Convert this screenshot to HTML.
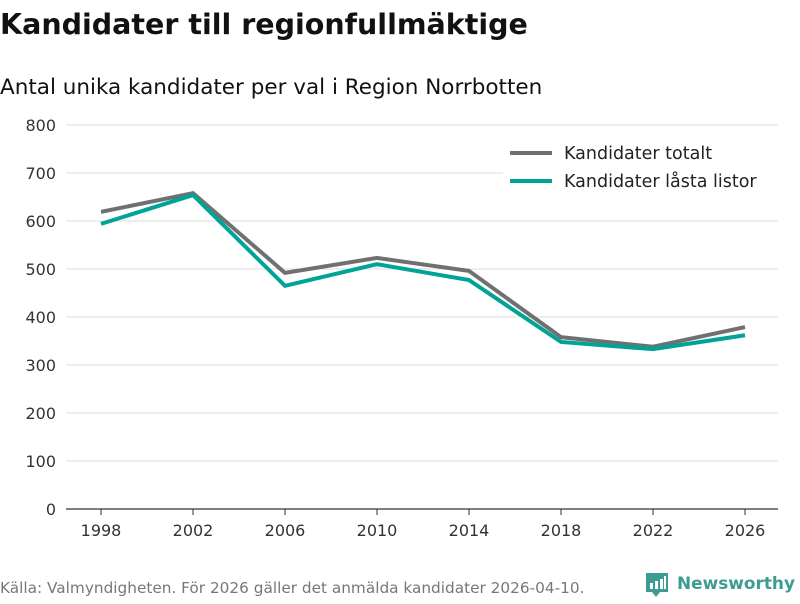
<!DOCTYPE html>
<html><head><meta charset="utf-8"><style>
body{margin:0;width:800px;height:600px;background:#fff;font-family:"DejaVu Sans","Liberation Sans",sans-serif;overflow:hidden}
</style></head><body>
<svg width="800" height="600" xmlns="http://www.w3.org/2000/svg">
<text x="0" y="34" font-size="28.5" font-weight="bold" fill="#111">Kandidater till regionfullmäktige</text>
<text x="0" y="94" font-size="21.5" fill="#111">Antal unika kandidater per val i Region Norrbotten</text>
<g id="grid"></g><g id="xaxis"></g><g id="lines"></g>
<g>
<rect x="503" y="138" width="275" height="60" fill="#fff"/>
<line x1="510" y1="153" x2="552" y2="153" stroke="#707070" stroke-width="4"/>
<text x="564" y="159" font-size="17.5" fill="#222">Kandidater totalt</text>
<line x1="510" y1="181" x2="552" y2="181" stroke="#00a497" stroke-width="4"/>
<text x="564" y="187" font-size="17.5" fill="#222">Kandidater låsta listor</text>
</g>
<text x="0" y="593" font-size="15.3" fill="#777">Källa: Valmyndigheten. För 2026 gäller det anmälda kandidater 2026-04-10.</text>
<g>
<path d="M646 573 h22 v19 h-8 l-4 5 l-4 -5 h-6 z" fill="#3d9b94"/>
<rect x="650" y="583" width="3" height="6" fill="#fff"/><rect x="655" y="581" width="3" height="8" fill="#fff"/><rect x="660" y="579" width="3" height="10" fill="#fff"/><rect x="664" y="576" width="2" height="13" fill="#fff"/>
<text x="677" y="589" font-size="17" font-weight="bold" fill="#3d9b94" textLength="118" lengthAdjust="spacingAndGlyphs">Newsworthy</text>
</g>
</svg>
<script>
const years=[1998,2002,2006,2010,2014,2018,2022,2026];
const totalt=[619,658,492,523,496,358,338,379];
const lasta=[594,654,465,510,477,348,333,362];
const yTicks=[0,100,200,300,400,500,600,700,800];
const NS="http://www.w3.org/2000/svg";
const x=v=>101+(v-1998)*23;
const y=v=>509-v*0.48;
const grid=document.getElementById('grid');
yTicks.forEach(t=>{
 const l=document.createElementNS(NS,'line');
 l.setAttribute('x1',66);l.setAttribute('x2',778);l.setAttribute('y1',y(t));l.setAttribute('y2',y(t));
 l.setAttribute('stroke',t===0?'#333':'#ddd');l.setAttribute('stroke-width',t===0?1.2:1);
 
 
 grid.appendChild(l);
 const tx=document.createElementNS(NS,'text');
 tx.setAttribute('x',56);tx.setAttribute('y',y(t)+6);tx.setAttribute('text-anchor','end');tx.setAttribute('font-size','16');tx.setAttribute('fill','#333');
 tx.textContent=t;
 
 
 grid.appendChild(tx);
});
const xa=document.getElementById('xaxis');
years.forEach(v=>{
 const l=document.createElementNS(NS,'line');
 l.setAttribute('x1',x(v));l.setAttribute('x2',x(v));l.setAttribute('y1',509);l.setAttribute('y2',515);l.setAttribute('stroke','#333');
 
 
 xa.appendChild(l);
 const tx=document.createElementNS(NS,'text');
 tx.setAttribute('x',x(v));tx.setAttribute('y',536);tx.setAttribute('text-anchor','middle');tx.setAttribute('font-size','16');tx.setAttribute('fill','#333');
 tx.textContent=v;
 
 
 xa.appendChild(tx);
});
const lines=document.getElementById('lines');
[[totalt,'#707070','line-totalt'],[lasta,'#00a497','line-lasta']].forEach(([d,c,n])=>{
 const p=document.createElementNS(NS,'polyline');
 p.setAttribute('points',d.map((v,i)=>x(years[i])+','+y(v)).join(' '));
 p.setAttribute('fill','none');p.setAttribute('stroke',c);p.setAttribute('stroke-width',4);
 
 
 lines.appendChild(p);
});
</script>
</body></html>
